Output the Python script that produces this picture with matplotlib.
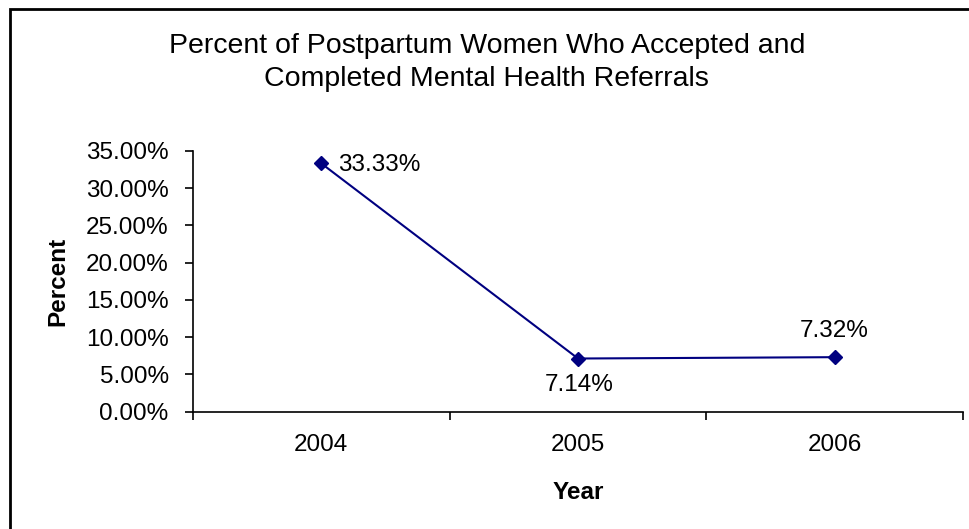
import matplotlib
matplotlib.use("Agg")
import matplotlib.pyplot as plt
import matplotlib.patches as patches
from matplotlib.ticker import FuncFormatter, MultipleLocator

years = ["2004", "2005", "2006"]
percents = [0.3333, 0.0714, 0.0732]
point_labels = ["33.33%", "7.14%", "7.32%"]

plt.rcParams["font.family"] = ["Liberation Sans", "DejaVu Sans"]
navy = "#000080"
fs = 17.5

fig = plt.figure(figsize=(9.69, 5.29), dpi=100)
ax = fig.add_axes([193 / 969, 1 - 411.7 / 529, 770 / 969, (411.7 - 151) / 529])

x = list(range(len(years)))
ax.plot(x, percents, color=navy, lw=1.5, marker="D", ms=7, mfc=navy, mec=navy)

# data labels: right, below, above
ax.annotate(point_labels[0], (x[0], percents[0]), xytext=(12, -1), textcoords="offset points",
            ha="left", va="center", fontsize=fs)
ax.annotate(point_labels[1], (x[1], percents[1]), xytext=(1, -11), textcoords="offset points",
            ha="center", va="top", fontsize=fs)
ax.annotate(point_labels[2], (x[2], percents[2]), xytext=(0, 11), textcoords="offset points",
            ha="center", va="bottom", fontsize=fs)

ax.set_xlim(-0.5, len(years) - 0.5)
ax.set_ylim(0, 0.35)
ax.yaxis.set_major_locator(MultipleLocator(0.05))
ax.yaxis.set_major_formatter(FuncFormatter(lambda v, p: f"{v * 100:.2f}%"))

ax.set_xticks([i - 0.5 for i in range(len(years) + 1)])
ax.set_xticklabels([])
ax.set_xticks(x, minor=True)
ax.set_xticklabels(years, minor=True)
ax.tick_params(axis="x", which="minor", length=0, pad=16, labelsize=fs)
ax.tick_params(axis="x", which="major", direction="out", length=5.5, width=1.2)
ax.tick_params(axis="y", direction="out", length=5.5, width=1.2, labelsize=fs, pad=12)

for s in ["top", "right"]:
    ax.spines[s].set_visible(False)
ax.spines["left"].set_linewidth(1.2)
ax.spines["bottom"].set_linewidth(1.2)

ax.set_xlabel("Year", fontsize=fs, fontweight="bold", labelpad=18)
ax.set_ylabel("Percent", fontsize=fs, fontweight="bold", labelpad=12)

fig.text(0.5025, 1 - 62.5 / 529, "Percent of Postpartum Women Who Accepted and\nCompleted Mental Health Referrals",
         ha="center", va="center", fontsize=20.5, linespacing=1.33)

# chart frame (only top and left edges fall inside the picture)
frame = patches.Rectangle((10 / 969, -0.05), 1.1, 1 - 8.5 / 529 + 0.05, transform=fig.transFigure,
                          fill=False, ec="black", lw=2, clip_on=False)
fig.patches.append(frame)

fig.savefig("out.png", dpi=100)
